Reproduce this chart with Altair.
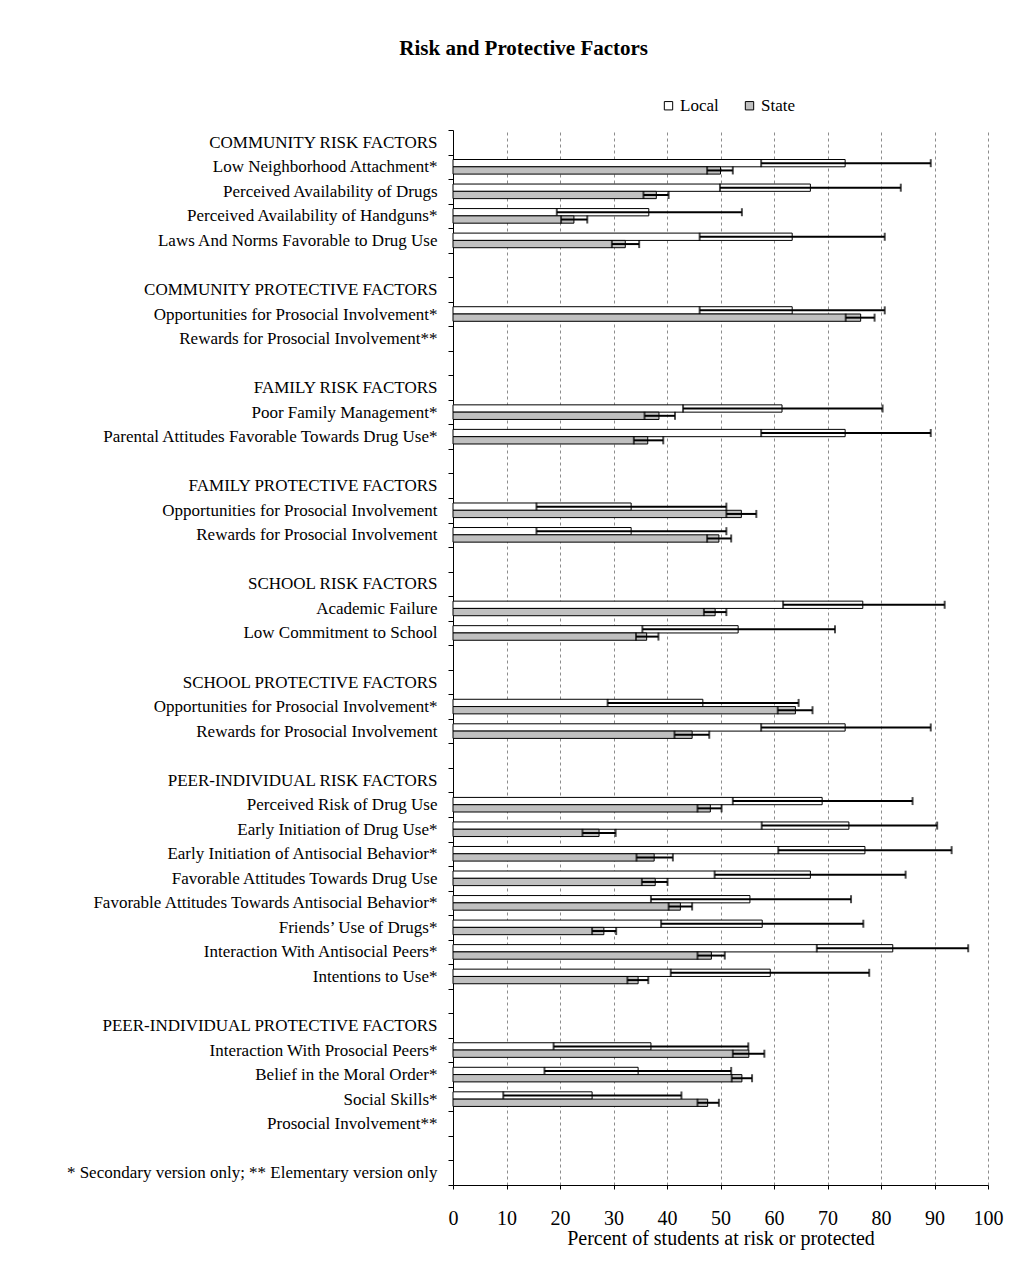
import json
import altair as alt
import pandas as pd

FONT = "Liberation Serif"

row_labels = [
    "COMMUNITY RISK FACTORS",
    "Low Neighborhood Attachment*",
    "Perceived Availability of Drugs",
    "Perceived Availability of Handguns*",
    "Laws And Norms Favorable to Drug Use",
    "",
    "COMMUNITY PROTECTIVE FACTORS",
    "Opportunities for Prosocial Involvement*",
    "Rewards for Prosocial Involvement**",
    "",
    "FAMILY RISK FACTORS",
    "Poor Family Management*",
    "Parental Attitudes Favorable Towards Drug Use*",
    "",
    "FAMILY PROTECTIVE FACTORS",
    "Opportunities for Prosocial Involvement",
    "Rewards for Prosocial Involvement",
    "",
    "SCHOOL RISK FACTORS  ",
    "Academic Failure",
    "Low Commitment to School",
    "",
    "SCHOOL PROTECTIVE FACTORS",
    "Opportunities for Prosocial Involvement*",
    "Rewards for Prosocial Involvement",
    "",
    "PEER-INDIVIDUAL RISK FACTORS",
    "Perceived Risk of Drug Use",
    "Early Initiation of Drug Use*",
    "Early Initiation of Antisocial Behavior*",
    "Favorable Attitudes Towards Drug Use",
    "Favorable Attitudes Towards Antisocial Behavior*",
    "Friends\u2019 Use of Drugs*",
    "Interaction With Antisocial Peers*",
    "Intentions to Use*",
    "",
    "PEER-INDIVIDUAL PROTECTIVE FACTORS",
    "Interaction With Prosocial Peers*",
    "Belief in the Moral Order*",
    "Social Skills*",
    "Prosocial Involvement**",
    "",
    "* Secondary version only; ** Elementary version only",
]

measured_rows = [1, 2, 3, 4, 7, 11, 12, 15, 16, 19, 20, 23, 24,
                 27, 28, 29, 30, 31, 32, 33, 34, 37, 38, 39]

local_pct = [73.3, 66.8, 36.6, 63.4, 63.4, 61.5, 73.3, 33.3, 33.3, 76.6, 53.3, 46.7, 73.3,
             69.0, 74.0, 77.0, 66.8, 55.5, 57.8, 82.2, 59.3, 37.0, 34.6, 26.0]
local_low = [57.6, 49.9, 19.4, 46.1, 46.1, 43.0, 57.6, 15.6, 15.6, 61.7, 35.4, 28.9, 57.6,
             52.3, 57.7, 60.8, 48.9, 37.0, 38.9, 68.0, 40.7, 18.8, 17.1, 9.4]
local_high = [89.3, 83.7, 54.0, 80.7, 80.7, 80.3, 89.3, 51.1, 51.1, 91.9, 71.4, 64.6, 89.3,
              85.9, 90.5, 93.2, 84.6, 74.4, 76.7, 96.3, 77.8, 55.2, 52.0, 42.7]

state_pct = [50.0, 38.0, 22.6, 32.2, 76.2, 38.5, 36.4, 53.9, 49.7, 49.0, 36.2, 64.0, 44.7,
             48.1, 27.3, 37.6, 37.8, 42.5, 28.2, 48.3, 34.6, 55.3, 54.0, 47.6]
state_low = [47.5, 35.6, 20.2, 29.7, 73.4, 35.8, 33.8, 51.1, 47.5, 46.9, 34.2, 60.7, 41.4,
             45.7, 24.2, 34.3, 35.3, 40.3, 26.0, 45.7, 32.6, 52.3, 52.1, 45.7]
state_high = [52.3, 40.3, 25.1, 34.8, 78.8, 41.5, 39.3, 56.7, 52.0, 51.1, 38.4, 67.2, 47.9,
              50.2, 30.4, 41.1, 40.1, 44.7, 30.5, 50.8, 36.5, 58.2, 55.9, 49.7]

series_names = ["Local", "State"]
series_fill = ["#ffffff", "#c0c0c0"]

records = []
for i, r in enumerate(measured_rows):
    records.append(dict(row=r, series="Local", pct=local_pct[i], low=local_low[i], high=local_high[i]))
    records.append(dict(row=r, series="State", pct=state_pct[i], low=state_low[i], high=state_high[i]))
df = pd.DataFrame(records)

label_expr = json.dumps(row_labels, ensure_ascii=False) + "[datum.value]"

x_scale = alt.Scale(domain=[0, 100], nice=False)
x_axis = alt.Axis(
    values=list(range(0, 101, 10)),
    title="Percent of students at risk or protected",
    grid=True, gridDash=[3, 3], gridColor="#8c8c8c", gridWidth=1,
    labelFontSize=20, titleFontSize=20, titleFontWeight="normal",
    labelPadding=19, titlePadding=0, tickSize=4, labelFlush=False,
)
y_enc = alt.Y(
    "row:O",
    scale=alt.Scale(domain=list(range(len(row_labels))), paddingInner=0, paddingOuter=0),
    axis=alt.Axis(title=None, labelExpr=label_expr, tickBand="extent",
                  labelFontSize=17, labelPadding=11, tickSize=5, labelLimit=700),
)

def xq(field):
    return alt.X(field + ":Q", scale=x_scale, axis=x_axis)

base = alt.Chart(df)
OFF = 3.65
layers = []
for s, off in zip(series_names, [-OFF, OFF]):
    sub = base.transform_filter(alt.datum.series == s)
    bars = sub.mark_bar(size=7.3, yOffset=off, stroke="black", strokeWidth=1).encode(
        x=xq("pct"), y=y_enc,
        fill=alt.Fill("series:N",
                      scale=alt.Scale(domain=series_names, range=series_fill),
                      legend=alt.Legend(title=None, orient="none", legendX=207, legendY=-33,
                                        direction="horizontal", symbolType="square",
                                        symbolStrokeColor="black", symbolStrokeWidth=1,
                                        symbolSize=70, labelFont=FONT, labelFontSize=17,
                                        labelOffset=3, columnPadding=22)),
    )
    rule = sub.mark_rule(color="black", strokeWidth=2, yOffset=off).encode(
        x=xq("low"), x2="high:Q", y=y_enc)
    caps = sub.transform_fold(["low", "high"], as_=["end", "val"]).mark_tick(
        color="black", thickness=2, size=8, yOffset=off).encode(x=xq("val"), y=y_enc)
    layers += [bars, rule, caps]

chart = alt.layer(*layers).properties(
    width=535, height=1055,
    title=alt.TitleParams("Risk and Protective Factors", font=FONT, fontSize=21,
                          fontWeight="bold", anchor="middle", frame="bounds", offset=38, dx=-11),
    padding={"left": 58, "top": 30, "right": 10, "bottom": 5},
).configure_view(stroke=None).configure_axis(
    labelFont=FONT, titleFont=FONT, labelColor="black", titleColor="black",
    domainColor="black", tickColor="black", domainWidth=1, tickWidth=1,
).configure_legend(labelColor="black")

chart.save("out.html", embed_options={"renderer": "svg", "actions": False})
